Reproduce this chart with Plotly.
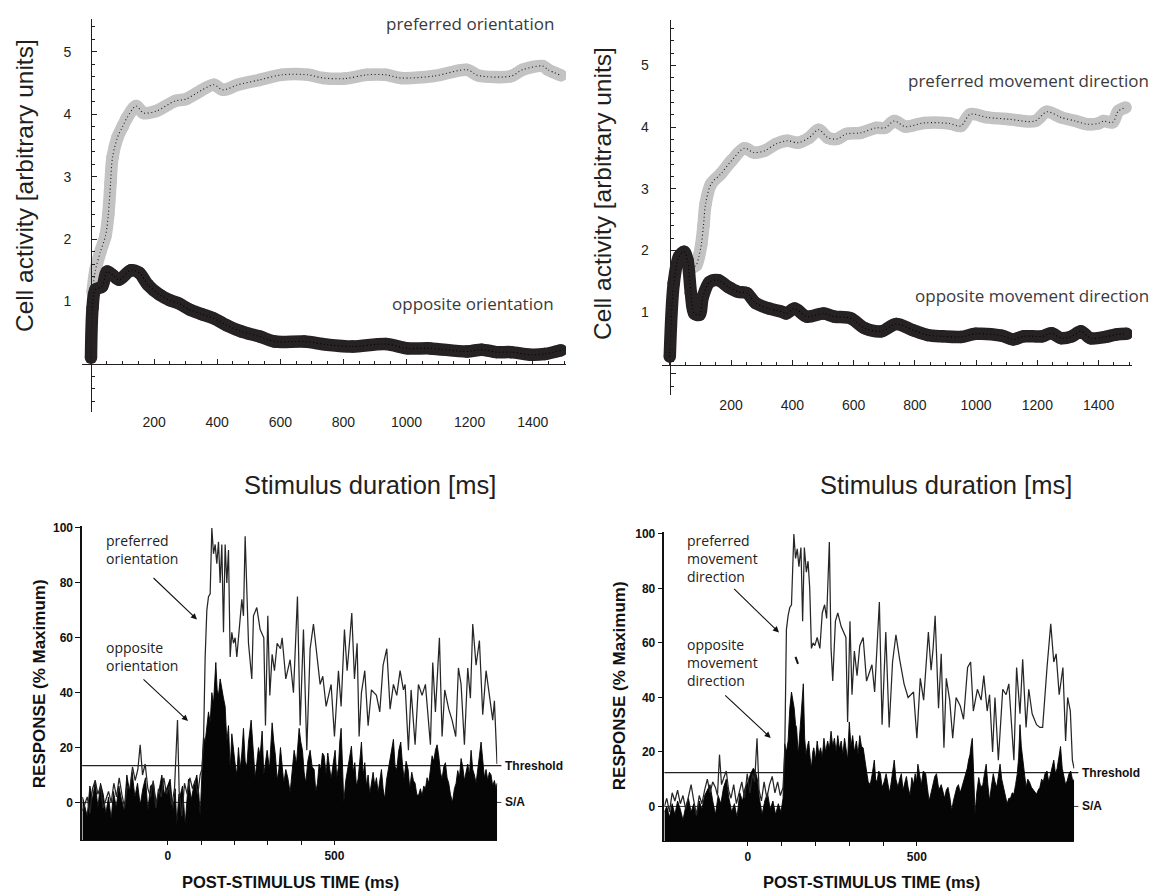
import plotly.graph_objects as go

W, H = 1160, 896

# ---------------------------------------------------------------- data
# Top row: cell activity vs stimulus duration (ms, arbitrary units)
TL_PREF_T = [5, 14, 30, 46, 55, 62, 68, 84, 100, 114, 143, 166, 207, 266, 301, 336, 389, 418,
             465, 535, 605, 688, 735, 805, 875, 934, 981, 1086, 1192, 1227, 1332, 1367, 1432, 1449, 1490]
TL_PREF_V = [1.15, 1.5, 1.8, 2.05, 2.4, 2.9, 3.3, 3.63, 3.8, 3.94, 4.13, 4.02, 4.05, 4.21, 4.24, 4.34, 4.47, 4.39,
             4.47, 4.55, 4.63, 4.63, 4.58, 4.57, 4.63, 4.63, 4.58, 4.61, 4.71, 4.62, 4.61, 4.71, 4.77, 4.71, 4.62]
TL_OPP_T = [0, 5, 14, 35, 51, 70, 89, 126, 153, 180, 217, 250, 278, 313, 350, 389, 430, 477, 535, 582,
            676, 747, 829, 934, 1004, 1075, 1192, 1238, 1285, 1332, 1391, 1438, 1490]
TL_OPP_V = [0.1, 0.9, 1.19, 1.24, 1.48, 1.42, 1.35, 1.5, 1.46, 1.27, 1.11, 1.02, 0.97, 0.87, 0.8, 0.73, 0.62,
            0.52, 0.44, 0.36, 0.36, 0.31, 0.28, 0.32, 0.25, 0.25, 0.2, 0.23, 0.19, 0.19, 0.15, 0.16, 0.22]

TR_PREF_T = [70, 86, 95, 103, 110, 117, 135, 166, 202, 244, 274, 310, 347, 383, 419, 455, 486, 516, 546, 576,
             624, 673, 703, 733, 769, 830, 914, 950, 981, 1035, 1107, 1192, 1231, 1277, 1325, 1361, 1398, 1416,
             1446, 1464, 1488]
TR_PREF_V = [1.72, 1.76, 1.9, 2.1, 2.4, 2.76, 3.08, 3.24, 3.46, 3.66, 3.59, 3.62, 3.73, 3.78, 3.75, 3.83, 3.96,
             3.83, 3.81, 3.89, 3.91, 3.99, 3.99, 4.10, 4.01, 4.07, 4.06, 4.02, 4.21, 4.16, 4.13, 4.10, 4.25, 4.16,
             4.10, 4.05, 4.06, 4.10, 4.08, 4.26, 4.32]
TR_OPP_T = [0, 13, 30, 47, 58, 69, 80, 97, 108, 130, 158, 191, 224, 252, 280, 324, 365, 380, 408, 447, 502, 536,
            591, 637, 691, 739, 793, 842, 890, 950, 999, 1083, 1120, 1156, 1216, 1246, 1277, 1313, 1343, 1373,
            1422, 1458, 1492]
TR_OPP_V = [0.28, 1.47, 1.9, 1.98, 1.84, 1.31, 0.98, 0.96, 1.25, 1.49, 1.52, 1.41, 1.33, 1.31, 1.15, 1.06, 1.01,
            0.98, 1.06, 0.93, 0.98, 0.93, 0.9, 0.74, 0.69, 0.81, 0.71, 0.63, 0.61, 0.60, 0.65, 0.62, 0.56, 0.61,
            0.61, 0.66, 0.58, 0.61, 0.69, 0.58, 0.60, 0.64, 0.65]

# Bottom row: PSTH, (post-stimulus time ms, response % of maximum)
BL_PREF = [(-256, -3), (-242, 2), (-234, -4), (-226, 5), (-218, 8), (-210, 3), (-202, 6), (-194, -2), (-186, 1),
           (-178, 4), (-170, 0), (-162, 7), (-154, 2), (-146, 9), (-138, 3), (-130, -2), (-122, 6), (-114, 5),
           (-106, 13), (-98, 8), (-90, 12), (-83, 21), (-76, 10), (-68, 14), (-60, 5), (-52, 2), (-44, 8),
           (-36, -2), (-28, 5), (-20, 2), (-12, 9), (-4, 3), (4, 6), (12, -1), (20, 5), (29, 30), (34, 4),
           (42, -5), (50, 7), (58, 3), (66, 9), (74, 5), (82, 8), (90, 3), (97, 10), (102, 12),
           (107, 21.7), (112, 53), (117, 70), (122, 75), (127, 76), (132, 100), (137, 90.6), (142, 94),
           (147, 87), (152, 95), (157, 80), (162, 94), (167, 62), (172, 94), (177, 80), (182, 92), (187, 53),
           (192, 62), (197, 58), (202, 60), (207, 53), (217, 69), (222, 74), (227, 68), (232, 97), (242, 58),
           (247, 52), (252, 45), (257, 68), (267, 71), (277, 63), (288, 60), (293, 28), (300, 68), (306, 39),
           (313, 54), (320, 48), (328, 58), (338, 56), (343, 60), (354, 45), (367, 52), (377, 40), (389, 75),
           (397, 28), (407, 63), (417, 19), (427, 56), (437, 65), (447, 54), (457, 43), (465, 46), (475, 35),
           (490, 43), (500, 24), (512, 48), (520, 35), (530, 63), (538, 48), (545, 58), (552, 69), (560, 45),
           (568, 58), (574, 24), (581, 40), (591, 48), (601, 28), (611, 41), (626, 39), (636, 33), (646, 50),
           (657, 56), (667, 34), (677, 43), (687, 39), (697, 48), (707, 41), (712, 43), (722, 19), (730, 41),
           (742, 21), (752, 43), (763, 39), (773, 43), (788, 21), (795, 51), (803, 33), (815, 60), (823, 24),
           (831, 41), (843, 34), (853, 30), (864, 24), (872, 49), (880, 43), (890, 21), (900, 49), (908, 38),
           (915, 65), (925, 50), (935, 59), (945, 32), (955, 48), (965, 39), (975, 30), (980, 37), (988, 14)]
BL_OPP = [(-256, 2), (-242, -5), (-234, 6), (-226, 1), (-218, 8), (-210, -2), (-202, 7), (-194, 3), (-186, -4),
          (-178, 2), (-170, -6), (-163, 4), (-155, -2), (-147, 6), (-139, 1), (-131, -3), (-123, 10), (-115, 4),
          (-107, 11), (-99, 2), (-91, 7), (-83, -1), (-75, 5), (-67, 9), (-60, -3), (-52, 6), (-43, 7), (-35, 0),
          (-27, 4), (-18, 10), (-10, 3), (-2, 6), (7, 8.5), (15, -3), (22, 5), (27, -8), (33, 3), (37, 2.4),
          (44, 6), (52, -8), (58, 4), (62, 8.5), (70, 1), (78, 6), (87, 10), (93, 3), (97, -5), (102, 8),
          (107, 24), (112, 22), (117, 27), (122, 33), (127, 29), (132, 40), (137, 36), (144, 51), (148, 41),
          (152, 39), (157, 45), (162, 41), (167, 38), (172, 35), (177, 22), (182, 28), (187, 12), (192, 25),
          (197, 19), (202, 14), (207, 10), (212, 20), (217, 12), (222, 18), (227, 27), (232, 15), (237, 13),
          (242, 22), (250, 30), (257, 19), (262, 9), (267, 14.5), (272, 20), (277, 17), (283, 26), (288, 10),
          (293, 15), (298, 19), (305, 12), (313, 29), (318, 22), (323, 17), (328, 8), (333, 12), (338, 20),
          (343, 14.5), (348, 7), (354, 12), (360, 9), (367, 3.6), (373, 13), (379, 19), (386, 14), (394, 27),
          (399, 22), (404, 19), (409, 11), (414, 7), (420, 15), (427, 19), (433, 13), (439, 12), (444, 4),
          (449, 7), (454, 14), (459, 12), (464, 18), (469, 17), (475, 10), (480, 18), (485, 13), (490, 8.5),
          (496, 14), (502, 19), (507, 9), (512, 13), (516, 22), (520, 27), (524, 14), (528, 0), (534, 8),
          (540, 12), (546, 17), (551, 20.5), (556, 11), (561, 14.5), (566, 6), (571, 8.5), (576, 15), (581, 22),
          (586, 10), (591, 14.5), (596, 6), (601, 10), (606, 3), (611, 7), (616, 11), (621, 6), (626, 9),
          (631, 3.6), (636, 8), (641, 12), (646, 5), (651, 1.2), (656, 8), (662, 12), (668, 16), (672, 19),
          (677, 23), (682, 13), (687, 12), (693, 19), (699, 22), (704, 14), (709, 8.5), (715, 15), (721, 12),
          (726, 5), (732, 11), (737, 8), (742, 7), (747, 3), (752, 2.4), (758, 5), (763, 2.4), (768, 6),
          (773, 5), (778, 9), (783, 7), (788, 12), (793, 17), (798, 15), (803, 19), (808, 21), (813, 17),
          (818, 11), (823, 8.5), (828, 13), (833, 14.5), (838, 9), (843, 7), (848, 3), (854, 0), (860, 5),
          (865, 7), (870, 11.6), (875, 9), (880, 16), (885, 13), (890, 8), (895, 11), (900, 14), (905, 10),
          (910, 19), (915, 12), (920, 10), (925, 7), (930, 13), (935, 17), (940, 22), (945, 14), (950, 9),
          (955, 12), (960, 8), (965, 11), (970, 10), (975, 6), (980, 8), (985, 5), (988, 7)]

BR_PREF = [(-247, 0), (-240, 3), (-232, -2), (-224, 5), (-216, 2), (-208, 6), (-200, 1), (-192, 4), (-184, -1),
           (-176, 3), (-168, 8), (-160, 2), (-152, -3), (-144, 4), (-136, 1), (-128, 6), (-120, 10), (-112, 5),
           (-104, 9), (-96, 7), (-90, 4), (-84, 19), (-78, 8), (-70, 11), (-64, 13), (-57, 6), (-50, 3),
           (-42, 8), (-34, 1), (-26, 5), (-18, 9), (-10, 3), (-2, 12), (6, 5), (14, 12), (20, 9), (27, 25),
           (33, 6), (40, 2), (48, 9), (56, 3), (64, 8), (72, 11), (80, 5), (88, 9), (96, 4), (104, 7),
           (109, 19), (114, 65), (119, 70), (124, 73), (129, 74), (136, 100), (141, 91), (146, 94.5), (151, 88),
           (157, 95), (162, 68), (167, 95), (173, 86), (178, 90), (183, 80), (188, 58), (193, 60), (198, 59),
           (205, 62), (213, 58), (220, 71), (227, 74), (233, 69), (241, 97), (246, 58), (251, 46), (259, 68),
           (266, 71), (276, 66), (286, 63), (290, 62), (295, 31), (302, 68), (308, 41), (315, 57), (323, 48),
           (331, 59), (341, 62), (351, 46), (367, 52), (375, 42), (389, 75), (397, 30), (408, 64), (418, 29),
           (428, 53), (438, 63), (449, 54), (462, 45), (474, 40), (490, 42), (500, 25), (510, 47), (520, 39),
           (534, 64), (542, 50), (548, 58), (554, 70), (564, 36), (572, 56), (580, 21.5), (587, 47), (597, 39),
           (606, 25), (616, 40), (628, 37), (638, 32), (650, 51), (659, 53), (667, 35), (679, 43), (690, 39),
           (698, 48), (708, 35), (715, 41), (724, 20), (731, 40), (741, 17), (754, 43), (764, 41), (772, 45),
           (787, 17), (795, 51), (805, 34), (813, 54), (823, 29), (831, 43), (841, 34), (854, 30), (864, 29),
           (872, 29), (885, 51), (896, 67), (905, 53), (912, 56), (921, 41), (932, 51), (940, 24), (946, 40),
           (954, 35), (960, 17), (965, 14)]
BR_OPP = [(-247, -2), (-240, 0), (-232, -4), (-224, 1), (-216, -3), (-208, 2), (-200, -1), (-192, -5),
          (-184, 0), (-176, 3), (-168, -2), (-160, 1), (-152, -4), (-144, 2), (-136, -1), (-128, 4), (-120, 6),
          (-112, 8), (-104, 2), (-96, -3), (-88, 4), (-80, 1), (-72, 7), (-64, 10), (-56, 3), (-48, -2),
          (-40, 1), (-32, -4), (-24, 5), (-16, 2), (-8, 7), (0, 9), (8, 12), (16, 14), (22, 13), (28, 10),
          (34, 3), (42, -3), (50, 2), (58, 5), (66, -1), (74, 2), (82, -3), (90, 1), (98, -2), (104, 3),
          (109, 23), (114, 20), (119, 24), (124, 36), (129, 42), (133, 39), (137, 36), (141, 30), (144, 29),
          (149, 19), (153, 26), (156, 31), (160, 40), (164, 45), (168, 25), (172, 19), (176, 22), (180, 24),
          (184, 18), (188, 14), (192, 20), (195, 21.5), (200, 17), (205, 24), (210, 19), (215, 21.5), (220, 18),
          (225, 25), (230, 20), (236, 24), (241, 21), (246, 27.6), (251, 22), (256, 25), (261, 20), (266, 26),
          (271, 21), (276, 24), (281, 19), (286, 25), (290, 21.5), (295, 17), (300, 31), (305, 22), (310, 26),
          (315, 20), (321, 24), (326, 19), (331, 26), (336, 22), (341, 21.5), (346, 18), (351, 13), (356, 9),
          (362, 8), (368, 12), (374, 17), (378, 10), (382, 9), (387, 13), (392, 12), (397, 7), (403, 9),
          (409, 12), (415, 8), (419, 5), (423, 8), (428, 13), (433, 17), (438, 10), (444, 7), (449, 10),
          (454, 12), (459, 6), (464, 9), (469, 11), (474, 7), (480, 4), (485, 10.6), (490, 8), (495, 12),
          (499, 9), (503, 15.5), (508, 11), (513, 8), (519, 13), (526, 12), (531, 7), (536, 2), (542, 5),
          (548, 8), (553, 11), (558, 12), (565, 6), (572, 8), (577, 5), (582, 3), (587, 6), (592, 7), (598, 3),
          (603, -1.6), (608, 2), (613, 4.5), (618, 7), (623, 8), (628, 5), (633, 7), (640, 10), (649, 14),
          (653, 17), (657, 19), (661, 23), (664, 25), (668, 12), (672, -3), (677, 5), (683, 10.6), (689, 7),
          (695, 8), (700, 12), (705, 15.5), (710, 8), (715, 2), (720, 7), (726, 12), (731, 9), (736, 7),
          (741, 11), (746, 15.5), (751, 10), (756, 7), (761, 4), (767, 1), (772, 3), (777, 3), (782, 5),
          (787, 4.5), (792, 8), (797, 12), (801, 18), (805, 30), (809, 22), (813, 17), (818, 11), (823, 7),
          (828, 10), (833, 9), (839, 7), (844, 6), (849, 5), (854, 4.5), (859, 6), (864, 7), (869, 10),
          (874, 9), (879, 12), (885, 13), (890, 9), (895, 12), (900, 15), (905, 17), (910, 12), (915, 14),
          (920, 18), (925, 22), (930, 14), (935, 11), (940, 8), (945, 9.5), (950, 12), (955, 13), (960, 10),
          (965, 9.5)]

BL_THRESHOLD = 13.4
BR_THRESHOLD = 12.4

TOP_X_TICKS = [200, 400, 600, 800, 1000, 1200, 1400]
TOP_Y_TICKS = [1, 2, 3, 4, 5]
BOT_X_TICKS = [0, 100, 200, 300, 400, 500]
BOT_X_TEXT = ['0', '', '', '', '', '500']
BOT_Y_TICKS = [0, 20, 40, 60, 80, 100]


# ---------------------------------------------------------------- helpers
def px(x):
    return x / W


def py(y):
    return 1 - y / H


INK = '#231f20'
SANS = 'Liberation Sans, Arial, Helvetica, sans-serif'
LABEL_FONT = 'Open Sans, Noto Sans, sans-serif'
BAND = 12.5

# panel geometry in page pixels: (left, right), (bottom, top); 'gap' pushes y labels away from the frame
PANELS = {
    'TL': dict(xp=(82, 566), yp=(409, 14), xr=[-28.5, 1505.5], yr=[-0.764, 5.525], origin=0.0, gap=7),
    'TR': dict(xp=(661.5, 1132), yp=(391.7, 15), xr=[-27, 1509], yr=[-0.334, 5.74], origin=0.145, gap=9),
    'BL': dict(xp=(82.2, 497.4), yp=(840, 524), xr=[-257, 989], yr=[-13.8, 100.7]),
    'BR': dict(xp=(664.4, 1074.4), yp=(841, 530), xr=[-247, 966], yr=[-12.8, 100.7]),
}


def dom_x(p):
    return [px(p['xp'][0]), px(p['xp'][1])]


def dom_y(p):
    return [py(p['yp'][0]), py(p['yp'][1])]


def frac(r, v):
    return (v - r[0]) / (r[1] - r[0])


fig = go.Figure()


def band(t, v, color, dot, xa, ya):
    fig.add_trace(go.Scatter(x=t, y=v, mode='lines+markers', xaxis=xa, yaxis=ya,
                             line=dict(color=color, width=BAND, shape='spline', smoothing=0.9),
                             marker=dict(size=BAND, color=color),
                             hoverinfo='skip', showlegend=False))
    fig.add_trace(go.Scatter(x=t, y=v, mode='lines', xaxis=xa, yaxis=ya,
                             line=dict(color=dot, width=1.1, dash='1px,2.6px', shape='spline', smoothing=0.9),
                             hoverinfo='skip', showlegend=False))


def psth(pref, opp, ymin, xa, ya):
    t_o = [p[0] for p in opp]
    v_o = [p[1] for p in opp]
    t_p = [p[0] for p in pref]
    v_p = [p[1] for p in pref]
    fig.add_trace(go.Scatter(x=[t_o[0], t_o[-1]], y=[ymin, ymin], mode='lines', xaxis=xa, yaxis=ya,
                             line=dict(width=0, color='#000'), hoverinfo='skip', showlegend=False))
    fig.add_trace(go.Scatter(x=t_o, y=v_o, mode='lines', fill='tonexty', fillcolor='#050505',
                             xaxis=xa, yaxis=ya, line=dict(color='#050505', width=0.9),
                             hoverinfo='skip', showlegend=False))
    fig.add_trace(go.Scatter(x=t_p, y=v_p, mode='lines', xaxis=xa, yaxis=ya,
                             line=dict(color='#262626', width=1.25),
                             hoverinfo='skip', showlegend=False))


# top row bands (grey = preferred, black = opposite)
band(TL_PREF_T, TL_PREF_V, '#c3c3c3', '#1a1a1a', 'x', 'y')
band(TL_OPP_T, TL_OPP_V, '#262223', '#000000', 'x', 'y')
band(TR_PREF_T, TR_PREF_V, '#c3c3c3', '#1a1a1a', 'x2', 'y2')
band(TR_OPP_T, TR_OPP_V, '#262223', '#000000', 'x2', 'y2')

# bottom row histograms
psth(BL_PREF, BL_OPP, PANELS['BL']['yr'][0], 'x3', 'y3')
psth(BR_PREF, BR_OPP, PANELS['BR']['yr'][0], 'x4', 'y4')

# empty traces so the crossing axes get drawn
fig.add_trace(go.Scatter(x=[None], y=[None], xaxis='x5', yaxis='y5', showlegend=False, hoverinfo='skip'))
fig.add_trace(go.Scatter(x=[None], y=[None], xaxis='x6', yaxis='y6', showlegend=False, hoverinfo='skip'))

top_tick = dict(family=SANS, size=14, color=INK)
bot_tick = dict(family=SANS, size=12, color='#111111', weight='bold')

layout = dict(width=W, height=896, margin=dict(l=0, r=0, t=0, b=0),
              paper_bgcolor='white', plot_bgcolor='rgba(0,0,0,0)', showlegend=False)

for key, xn, yn, xo, yo in (('TL', 'xaxis', 'yaxis', 'xaxis5', 'yaxis5'),
                            ('TR', 'xaxis2', 'yaxis2', 'xaxis6', 'yaxis6')):
    p = PANELS[key]
    ya_id = yn.replace('axis', '')
    xa_id = xn.replace('axis', '')
    layout[xn] = dict(domain=dom_x(p), range=p['xr'], anchor=ya_id, tickvals=TOP_X_TICKS, ticks='',
                      showline=False, showgrid=False, zeroline=False, tickfont=top_tick)
    # invisible outside ticks give the labels their offset from the frame
    layout[yn] = dict(domain=dom_y(p), range=p['yr'], anchor=xa_id, tickvals=TOP_Y_TICKS,
                      ticks='outside', ticklen=p['gap'], tickcolor='rgba(0,0,0,0)',
                      showline=False, showgrid=False, zeroline=False, tickfont=top_tick)
    d_y = dom_y(p)
    d_x = dom_x(p)
    layout[xo] = dict(overlaying=xa_id, anchor='free', domain=d_x, range=p['xr'],
                      position=d_y[0] + frac(p['yr'], p['origin']) * (d_y[1] - d_y[0]),
                      showline=True, linecolor=INK, linewidth=1, ticks='inside', ticklen=5,
                      tickcolor=INK, tickwidth=1, tick0=0, dtick=200, showticklabels=False,
                      showgrid=False, zeroline=False,
                      minor=dict(ticks='inside', ticklen=3, tickcolor=INK, dtick=50, tick0=0))
    layout[yo] = dict(overlaying=ya_id, anchor='free', side='left', domain=d_y, range=p['yr'],
                      position=d_x[0] + frac(p['xr'], 0) * (d_x[1] - d_x[0]),
                      showline=True, linecolor=INK, linewidth=1, ticks='inside', ticklen=5,
                      tickcolor=INK, tickwidth=1, tick0=0, dtick=1, showticklabels=False,
                      showgrid=False, zeroline=False,
                      minor=dict(ticks='inside', ticklen=3, tickcolor=INK, dtick=0.2, tick0=0))

for key, xn, yn in (('BL', 'xaxis3', 'yaxis3'), ('BR', 'xaxis4', 'yaxis4')):
    p = PANELS[key]
    layout[xn] = dict(domain=dom_x(p), range=p['xr'], anchor=yn.replace('axis', ''),
                      tickvals=BOT_X_TICKS, ticktext=BOT_X_TEXT, ticks='outside', ticklen=4,
                      tickcolor='#111', showline=True, linecolor='#111', linewidth=1.2,
                      showgrid=False, zeroline=False, tickfont=bot_tick)
    layout[yn] = dict(domain=dom_y(p), range=p['yr'], anchor=xn.replace('axis', ''),
                      tickvals=BOT_Y_TICKS, ticks='outside', ticklen=5, tickcolor='#111', tickwidth=1.3,
                      showline=True, linecolor='#111', linewidth=1.5,
                      showgrid=False, zeroline=False, tickfont=bot_tick)

fig.update_layout(**layout)

# threshold and spontaneous-activity reference lines
shapes = []
for key, yref, thr in (('BL', 'y3', BL_THRESHOLD), ('BR', 'y4', BR_THRESHOLD)):
    p = PANELS[key]
    for level, width in ((thr, 1.3), (0, 0.9)):
        shapes.append(dict(type='line', xref='paper', yref=yref, layer='below',
                           x0=px(p['xp'][0]), x1=px(p['xp'][1] + 4), y0=level, y1=level,
                           line=dict(color='#222', width=width)))
# small stray stroke in the right histogram
shapes.append(dict(type='line', xref='paper', yref='paper', x0=px(795.5), y0=py(655.5),
                   x1=px(798), y1=py(662.5), line=dict(color='#111', width=2)))
fig.update_layout(shapes=shapes)

ann = []


def text(x, y, s, size, font=SANS, color=INK, xanchor='center', yanchor='middle', angle=0,
         weight='normal', align='center'):
    ann.append(dict(x=px(x), y=py(y), xref='paper', yref='paper', text=s, showarrow=False,
                    xanchor=xanchor, yanchor=yanchor, textangle=angle, align=align,
                    font=dict(family=font, size=size, color=color, weight=weight)))


def arrow(head, tail):
    ann.append(dict(x=px(head[0]), y=py(head[1]), xref='paper', yref='paper', text='',
                    showarrow=True, ax=tail[0] - head[0], ay=tail[1] - head[1],
                    arrowhead=2, arrowsize=1.1, arrowwidth=1.1, arrowcolor='#111'))


# top row titles and curve labels
text(25, 182, 'Cell activity [arbitrary units]', 24.5, angle=-90)
text(603, 190, 'Cell activity [arbitrary units]', 24.5, angle=-90)
text(370, 483, 'Stimulus duration [ms]', 25.5)
text(946, 483, 'Stimulus duration [ms]', 25.5)
text(556, 19, 'preferred orientation', 17, font=LABEL_FONT, color='#3a3a3a', xanchor='right')
text(556, 300, 'opposite orientation', 17, font=LABEL_FONT, color='#3a3a3a', xanchor='right')
text(1151, 76, 'preferred movement direction', 17, font=LABEL_FONT, color='#3a3a3a', xanchor='right')
text(1151, 292, 'opposite movement direction', 17, font=LABEL_FONT, color='#3a3a3a', xanchor='right')

# bottom row titles and labels
text(39, 683, 'RESPONSE (% Maximum)', 17, color='#111', angle=-90, weight='bold')
text(619, 685, 'RESPONSE (% Maximum)', 17, color='#111', angle=-90, weight='bold')
text(290, 882, 'POST-STIMULUS TIME (ms)', 16.5, color='#111', weight='bold')
text(871, 882, 'POST-STIMULUS TIME (ms)', 16.5, color='#111', weight='bold')

for key, yref, thr, lx in (('BL', 'y3', BL_THRESHOLD, 503), ('BR', 'y4', BR_THRESHOLD, 1080)):
    for label, level in (('Threshold', thr), ('S/A', 0)):
        ann.append(dict(x=px(lx), y=level, xref='paper', yref=yref, text=label, showarrow=False,
                        xanchor='left', yanchor='middle',
                        font=dict(family=SANS, size=12, color='#111', weight='bold')))

text(104, 547.5, 'preferred<br>orientation', 14, font=LABEL_FONT, color='#222', xanchor='left', align='left')
text(104, 655.5, 'opposite<br>orientation', 14, font=LABEL_FONT, color='#222', xanchor='left', align='left')
text(685, 556.5, 'preferred<br>movement<br>direction', 14, font=LABEL_FONT, color='#222', xanchor='left',
     align='left')
text(685, 661, 'opposite<br>movement<br>direction', 14, font=LABEL_FONT, color='#222', xanchor='left',
     align='left')
arrow((197, 618), (152, 575))
arrow((188, 720), (142, 677))
arrow((779, 631), (732.6, 586))
arrow((770.7, 737), (723.7, 693))

fig.update_layout(annotations=ann)

fig.write_html('out.html')
